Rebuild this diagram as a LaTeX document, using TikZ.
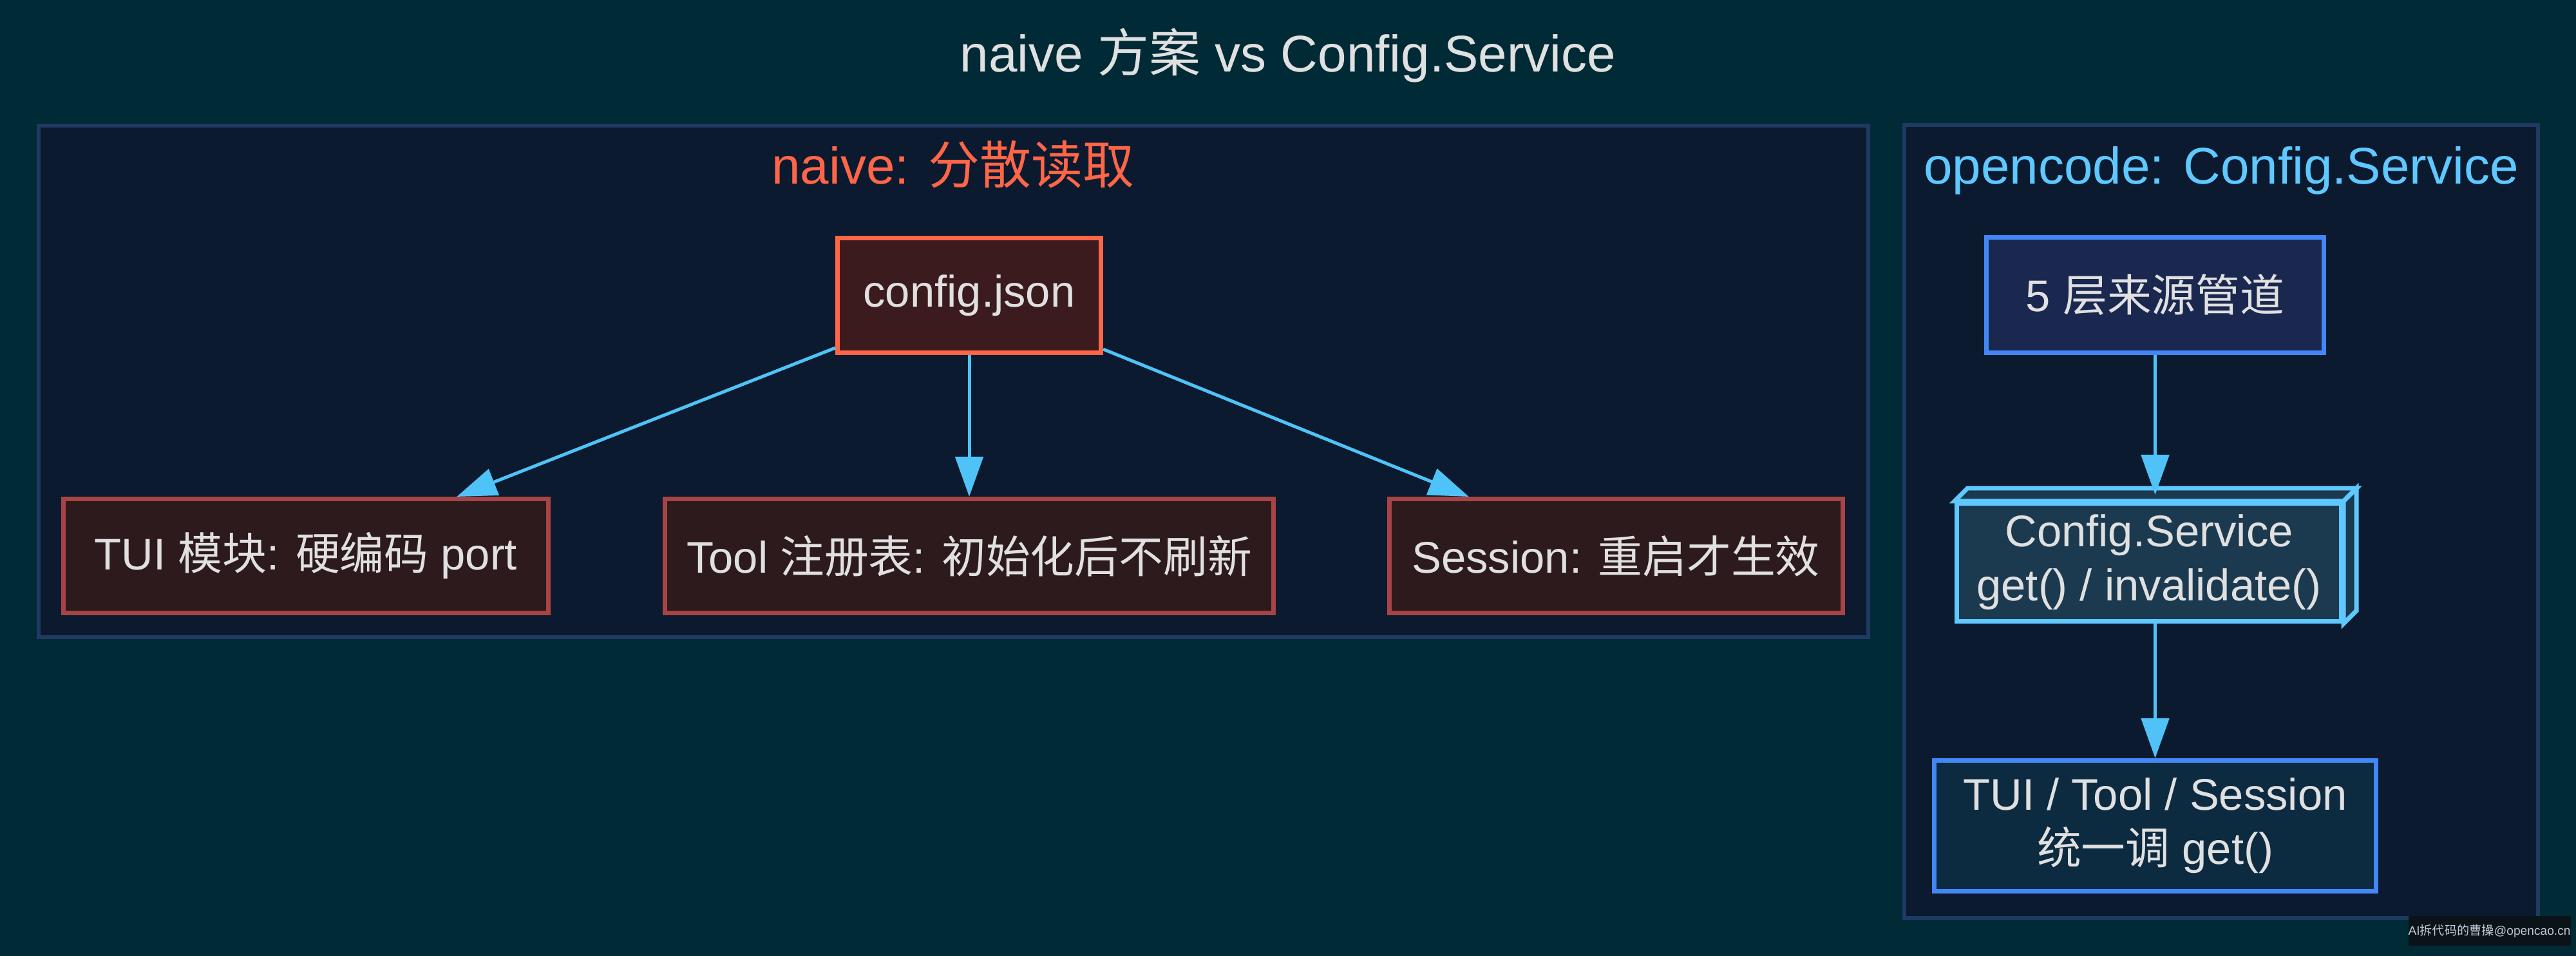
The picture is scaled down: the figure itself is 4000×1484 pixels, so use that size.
\documentclass[tikz,border=0pt]{standalone}
\usepackage{fontspec}
\setmainfont{Liberation Sans}
\newfontfamily\cjk{Noto Sans CJK SC}
\usetikzlibrary{arrows.meta}
\definecolor{bg}{HTML}{002B36}
\definecolor{clfill}{HTML}{0C1A2F}
\definecolor{clline}{HTML}{1E3A63}
\definecolor{txt}{HTML}{E0E0E0}
\definecolor{orng}{HTML}{FF6647}
\definecolor{cfgfill}{HTML}{3B1B1E}
\definecolor{redfill}{HTML}{2C1A1D}
\definecolor{redline}{HTML}{A84444}
\definecolor{bluline}{HTML}{4287F5}
\definecolor{fivefill}{HTML}{1A2850}
\definecolor{svcfill}{HTML}{1B3A50}
\definecolor{svcline}{HTML}{5EC8FF}
\definecolor{botfill}{HTML}{0C2A40}
\definecolor{edgec}{HTML}{4FC3F7}
\definecolor{lblblue}{HTML}{5EC8FF}
\definecolor{wmfill}{HTML}{0A1418}
\definecolor{wmtext}{HTML}{C0C8D0}
\tikzset{
  clusterbox/.style={draw=clline, fill=clfill, line width=1.5pt},
  basebox/.style={rectangle, line width=1.75pt, text=txt, inner sep=0pt,
    font=\fontsize{17.2pt}{21pt}\selectfont, align=center},
  redbox/.style={basebox, draw=redline, fill=redfill, minimum height=44.25pt},
  cfgbox/.style={basebox, draw=orng, fill=cfgfill},
  fivebox/.style={basebox, draw=bluline, fill=fivefill},
  svcbox/.style={basebox, draw=svcline, fill=svcfill},
  botbox/.style={basebox, draw=bluline, fill=botfill},
  face3d/.style={fill=svcfill, draw=svcline, line width=1.75pt, line join=miter},
  edge/.style={draw=edgec, line width=1.25pt, -{Triangle[length=15.5pt,width=10.75pt]}},
  titletext/.style={text=txt, font=\fontsize{20pt}{24pt}\selectfont, anchor=base, inner sep=0pt},
  cllabel/.style={font=\fontsize{20pt}{24pt}\selectfont, anchor=base, inner sep=0pt}
}
\begin{document}
\begin{tikzpicture}[x=0.25pt,y=-0.25pt]
\useasboundingbox (0,0) rectangle (4000,1484);
\fill[bg] (0,0) rectangle (4000,1484);

% title
\node[titletext] (title) at (2000,112) {naive {\cjk 方案} vs Config.Service};

% clusters
\draw[clusterbox] (60,195) rectangle (2901,989);
\draw[clusterbox] (2957,194) rectangle (3941,1425);
\node[cllabel, text=orng] (lblL) at (1480,286) {naive: {\cjk 分散读取}};
\node[cllabel, text=lblblue] (lblR) at (3449,286) {opencode: Config.Service};

% left nodes
\node[cfgbox, minimum width=102.25pt, minimum height=44.5pt] (cfg) at (1505,458.5) {config.json};
\node[redbox, minimum width=188.25pt] (tui) at (475,863) {TUI {\cjk 模块}: {\cjk 硬编码} port};
\node[redbox, minimum width=236.25pt] (tool) at (1505,863) {Tool {\cjk 注册表}: {\cjk 初始化后不刷新}};
\node[redbox, minimum width=176pt] (sess) at (2509,863) {Session: {\cjk 重启才生效}};

% right nodes
\node[fivebox, minimum width=131pt, minimum height=44.75pt] (five) at (3346.5,458) {5 {\cjk 层来源管道}};
\node[svcbox, minimum width=149.25pt, minimum height=45.75pt] (svc) at (3337,873) {Config.Service\\get() / invalidate()};
\draw[face3d] (svc.north west) -- ([shift={(5pt,5pt)}]svc.north west) -- ([shift={(5pt,5pt)}]svc.north east)
  -- (svc.north east) -- cycle;
\draw[face3d] (svc.north east) -- ([shift={(5pt,5pt)}]svc.north east) -- ([shift={(5pt,5pt)}]svc.south east)
  -- (svc.south east) -- cycle;
\node[botbox, minimum width=171.5pt, minimum height=50.75pt] (bot) at (3346.5,1282) {TUI / Tool / Session\\{\cjk 统一调} get()};

% edges
\draw[edge] (cfg) -- (tui);
\draw[edge] (cfg) -- (tool);
\draw[edge] (cfg) -- (sess);
\draw[edge, shorten >=2.5pt] (five) -- (five |- svc.north);
\draw[edge] (svc.south -| bot.north) -- (bot);

% watermark
\node[fill=wmfill, minimum width=59.75pt, minimum height=11.5pt, inner sep=0pt,
  text=wmtext, font=\fontsize{4.8pt}{5pt}\selectfont] (wm) at (3865.5,1445)
  {AI{\cjk 拆代码的曹操}@opencao.cn};
\end{tikzpicture}
\end{document}
